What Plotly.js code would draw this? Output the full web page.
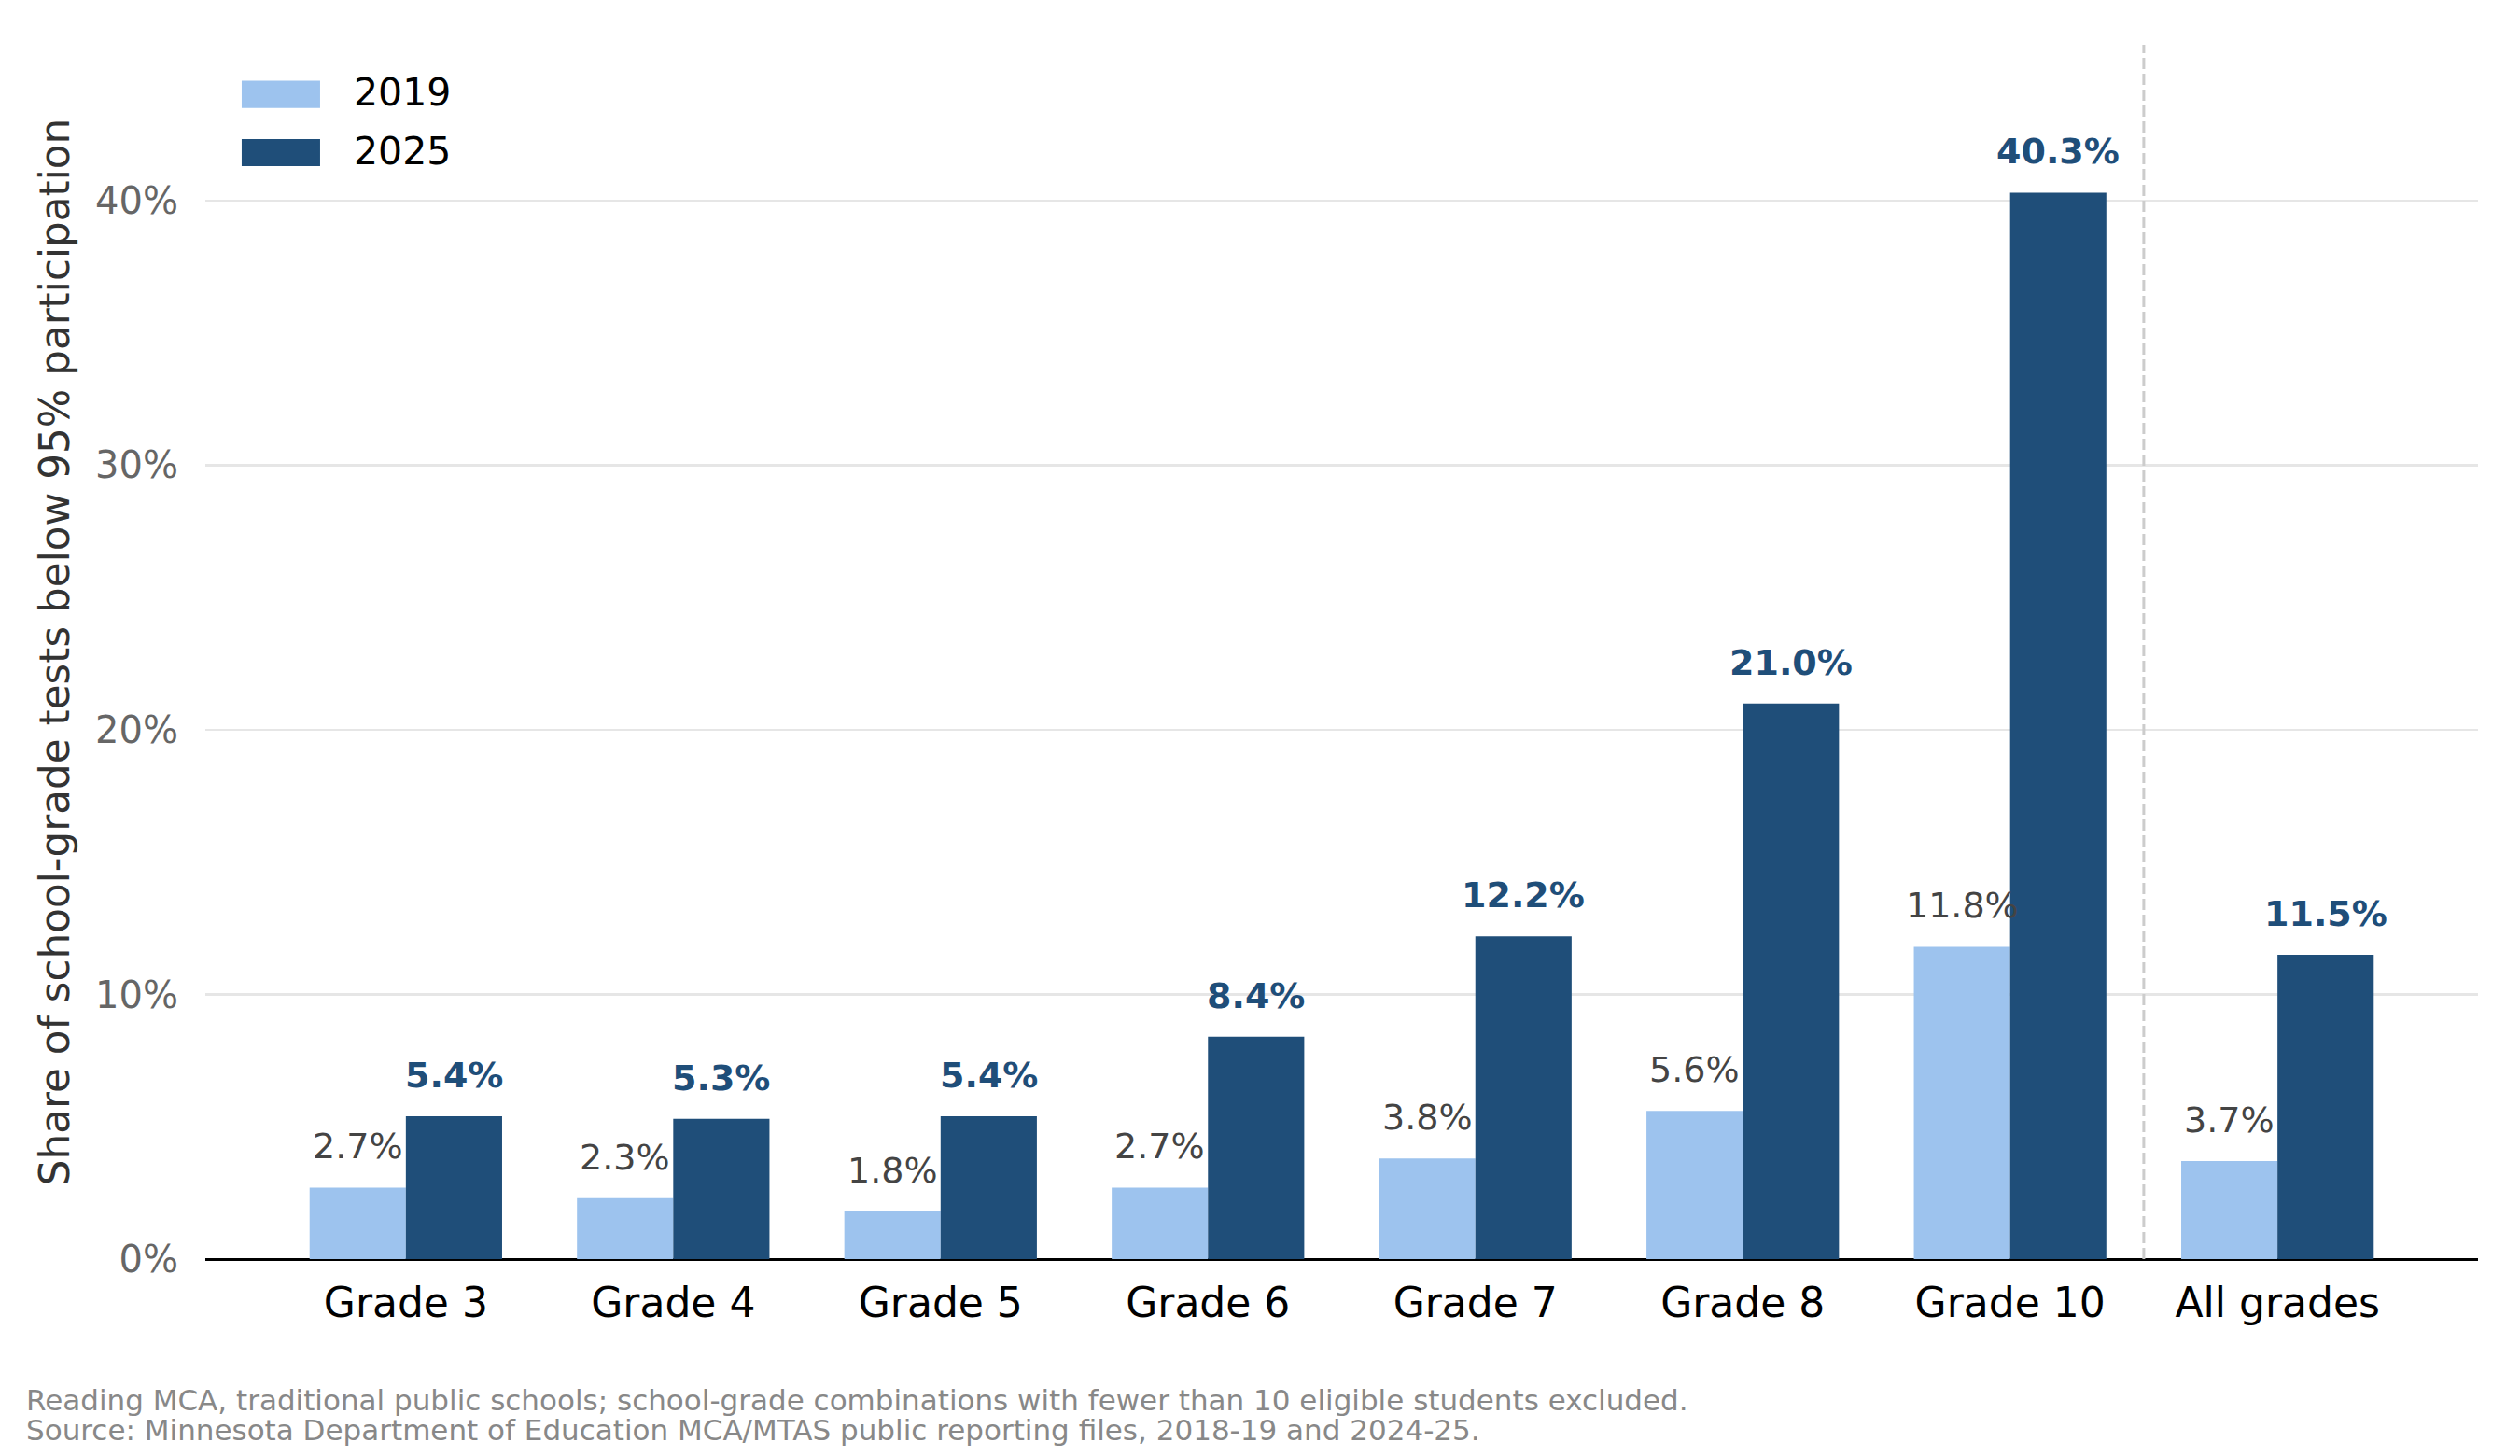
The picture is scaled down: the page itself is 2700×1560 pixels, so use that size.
<!DOCTYPE html>
<html>
<head>
<meta charset="utf-8">
<script src="https://cdn.plot.ly/plotly-3.0.1.min.js"></script>
<style>
  html, body { margin: 0; padding: 0; background: #fff; }
  #chart { width: 2700px; height: 1560px; }
</style>
</head>
<body>
<div id="chart"></div>
<script>
// categories and values
const grades = ['Grade 3', 'Grade 4', 'Grade 5', 'Grade 6', 'Grade 7', 'Grade 8', 'Grade 10', 'All grades'];
const share2019 = [2.7, 2.3, 1.8, 2.7, 3.8, 5.6, 11.8, 3.7];
const share2025 = [5.4, 5.3, 5.4, 8.4, 12.2, 21.0, 40.3, 11.5];
const seriesNames = ['2019', '2025'];

const lightBlue = '#9dc3ee';
const darkBlue = '#1f4e79';
const font = 'DejaVu Sans';

const barHalf = 0.18; // each bar is 0.36 of a category wide

const trace1 = {
  x: grades,
  y: share2019,
  name: seriesNames[0],
  type: 'bar',
  marker: {color: lightBlue},
  hoverinfo: 'skip'
};

const trace2 = {
  x: grades,
  y: share2025,
  name: seriesNames[1],
  type: 'bar',
  marker: {color: darkBlue},
  hoverinfo: 'skip'
};

// value labels above each bar
let labels = [];
share2019.forEach((v, i) => {
  labels.push({
    x: i - barHalf, y: v, xref: 'x', yref: 'y',
    text: v.toFixed(1) + '%', showarrow: false,
    yanchor: 'bottom', yshift: 20,
    font: {family: font, size: 38, color: '#444444'}
  });
});
share2025.forEach((v, i) => {
  labels.push({
    x: i + barHalf, y: v, xref: 'x', yref: 'y',
    text: '<b>' + v.toFixed(1) + '%</b>', showarrow: false,
    yanchor: 'bottom', yshift: 20,
    font: {family: font, size: 38, color: darkBlue}
  });
});

// legend drawn by hand so the swatches match the original size
const legendColors = [lightBlue, darkBlue];
const swatchTop = [0.9704, 0.9224];
const legendText = [0.9608, 0.9120];
let legendShapes = [];
seriesNames.forEach((n, k) => {
  legendShapes.push({
    type: 'rect', xref: 'paper', yref: 'paper',
    x0: 0.0160, x1: 0.0505, y0: swatchTop[k] - 0.0224, y1: swatchTop[k],
    fillcolor: legendColors[k], line: {width: 0}
  });
  labels.push({
    x: 0.0645, y: legendText[k], xref: 'paper', yref: 'paper',
    xanchor: 'left', yanchor: 'middle', showarrow: false,
    text: n, font: {family: font, size: 41, color: '#000000'}
  });
});

// footnote
labels.push({
  x: -0.0798, y: -0.1159, xref: 'paper', yref: 'paper',
  xanchor: 'left', yanchor: 'middle', showarrow: false,
  text: 'Reading MCA, traditional public schools; school-grade combinations with fewer than 10 eligible students excluded.',
  font: {family: font, size: 31, color: '#888888'}
});
labels.push({
  x: -0.0798, y: -0.1410, xref: 'paper', yref: 'paper',
  xanchor: 'left', yanchor: 'middle', showarrow: false,
  text: 'Source: Minnesota Department of Education MCA/MTAS public reporting files, 2018-19 and 2024-25.',
  font: {family: font, size: 31, color: '#888888'}
});

const layout = {
  width: 2700,
  height: 1560,
  barmode: 'group',
  bargap: 0.28,
  bargroupgap: 0,
  showlegend: false,
  paper_bgcolor: '#ffffff',
  plot_bgcolor: '#ffffff',
  margin: {l: 220, r: 45, t: 48, b: 211},
  font: {family: font},
  xaxis: {
    range: [-0.75, 7.75],
    showgrid: false,
    showline: false,
    ticks: '',
    ticklabelstandoff: 17,
    tickfont: {family: font, size: 44, color: '#000000'}
  },
  yaxis: {
    range: [0, 45.89],
    dtick: 10,
    ticksuffix: '%',
    showgrid: true,
    gridcolor: '#e6e6e6',
    gridwidth: 2.5,
    zeroline: true,
    zerolinecolor: '#000000',
    zerolinewidth: 3,
    ticks: '',
    ticklabelstandoff: 28,
    tickfont: {family: font, size: 40, color: '#666666'},
    title: {
      text: 'Share of school-grade tests below 95% participation',
      standoff: 13,
      font: {family: font, size: 43.7, color: '#333333'}
    }
  },
  shapes: [{
    type: 'line', xref: 'x', yref: 'paper',
    x0: 6.5, x1: 6.5, y0: 0, y1: 1,
    line: {color: '#cccccc', width: 3, dash: '12px,5px'}
  }].concat(legendShapes),
  annotations: labels
};

Plotly.newPlot('chart', [trace1, trace2], layout, {staticPlot: true});
</script>
</body>
</html>
